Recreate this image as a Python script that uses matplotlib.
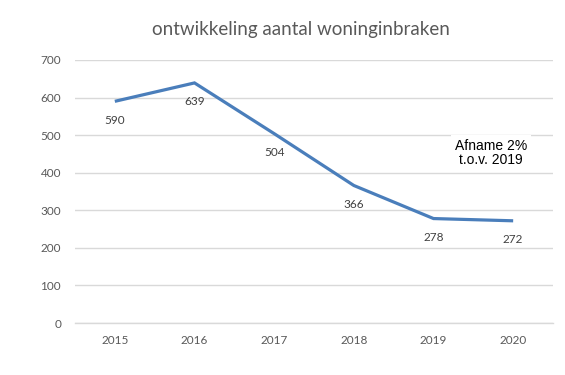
import matplotlib

matplotlib.use("Agg")
import matplotlib.pyplot as plt

# Data
years = ["2015", "2016", "2017", "2018", "2019", "2020"]
inbraken = [590, 639, 504, 366, 278, 272]
y_ticks = [0, 100, 200, 300, 400, 500, 600, 700]

LINE = "#4A7EBB"
GRID = "#D9D9D9"
TICK = "#595959"
LABEL = "#404040"
FONT = ["Lato", "DejaVu Sans"]

fig = plt.figure(figsize=(5.65, 3.75), dpi=100)
ax = fig.add_axes([75 / 565, 1 - 323 / 375, 478 / 565, 263 / 375])

x = range(len(years))
ax.plot(x, inbraken, color=LINE, linewidth=2.3, solid_joinstyle="miter",
        solid_capstyle="butt", zorder=3)

for xi, v in zip(x, inbraken):
    ax.annotate(str(v), (xi, v), textcoords="offset points", xytext=(0, -13.5),
                ha="center", va="center", fontsize=8.5, color=LABEL,
                family=FONT, zorder=4)

ax.set_xlim(-0.5, len(years) - 0.5)
ax.set_ylim(0, 700)
ax.set_yticks(y_ticks)
ax.set_xticks(list(x))
ax.set_xticklabels(years)
ax.grid(axis="y", color=GRID, linewidth=1.0, zorder=0)
ax.set_axisbelow(True)
for side in ("top", "right", "left"):
    ax.spines[side].set_visible(False)
ax.spines["bottom"].set_color(GRID)
ax.spines["bottom"].set_linewidth(1.0)
ax.tick_params(length=0, pad=9, labelsize=8.5, labelcolor=TICK)
ax.tick_params(axis="y", pad=10)
for lbl in ax.get_xticklabels() + ax.get_yticklabels():
    lbl.set_family(FONT)

fig.text(301 / 565, 1 - 30 / 375, "ontwikkeling aantal woninginbraken",
         ha="center", va="center", fontsize=13.5, color=TICK, family=FONT)

ax.text(4.72, 415, "Afname 2%\nt.o.v. 2019", ha="center", va="bottom",
        fontsize=10, color="black", family=["Liberation Sans", "DejaVu Sans"],
        linespacing=1.0,
        bbox=dict(boxstyle="square,pad=0.3", fc="white", ec="none"), zorder=5)

fig.savefig("out.png", dpi=100)
